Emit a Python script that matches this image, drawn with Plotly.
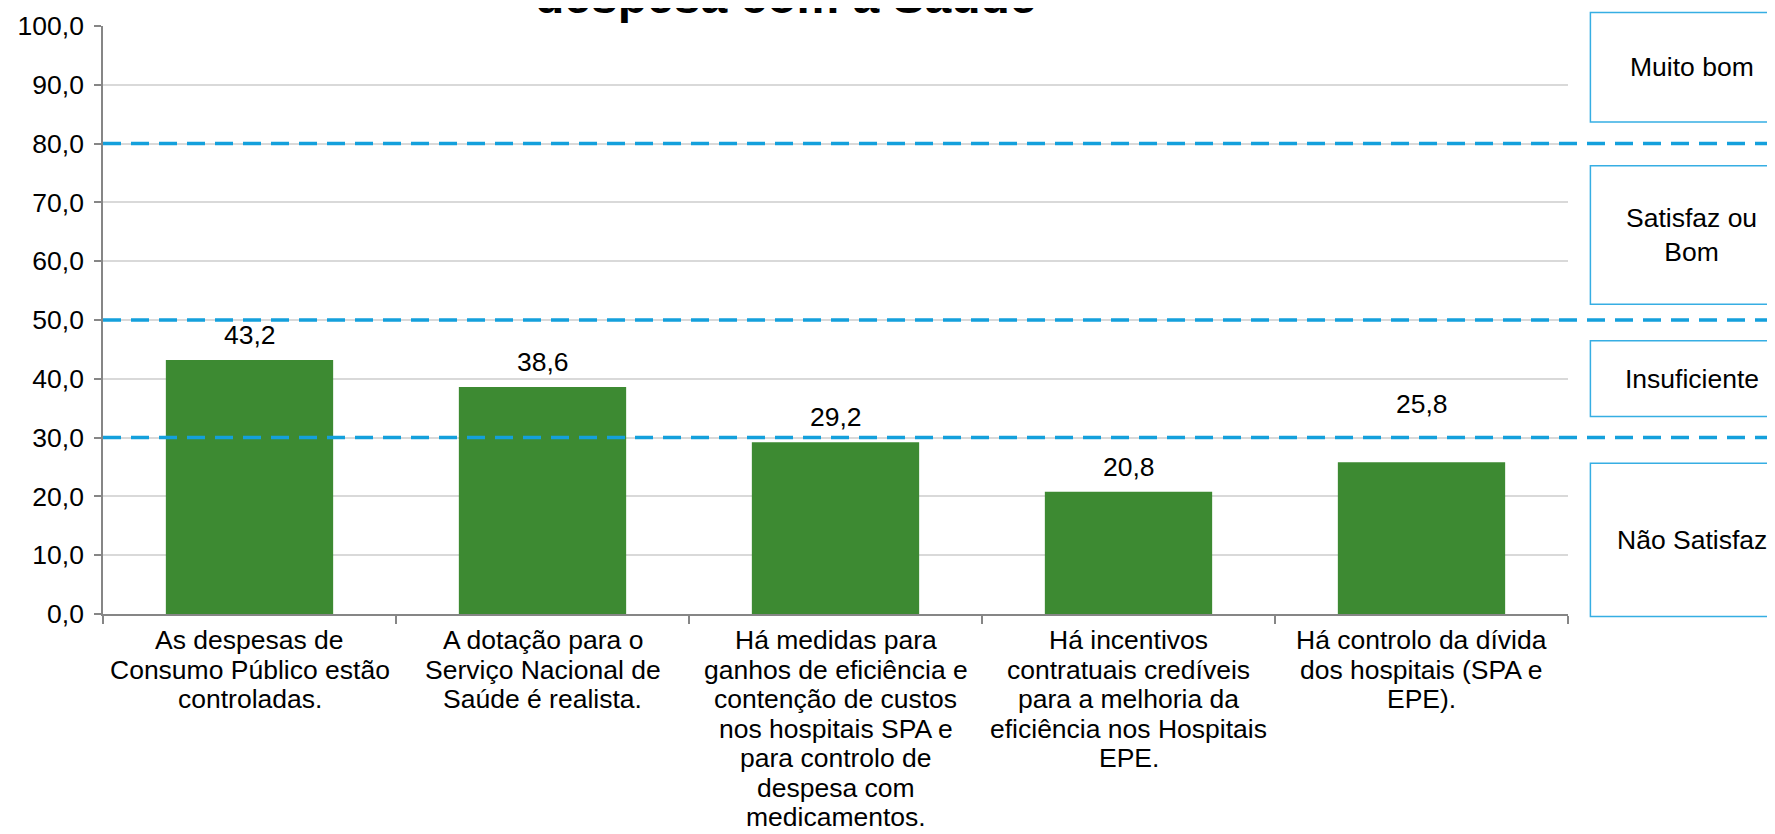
import plotly.graph_objects as go

# ---- data ----
category_lines = [
    ["As despesas de", "Consumo Público estão", "controladas."],
    ["A dotação para o", "Serviço Nacional de", "Saúde é realista."],
    ["Há medidas para", "ganhos de eficiência e", "contenção de custos",
     "nos hospitais SPA e", "para controlo de", "despesa com", "medicamentos."],
    ["Há incentivos", "contratuais credíveis", "para a melhoria da",
     "eficiência nos Hospitais", "EPE."],
    ["Há controlo da dívida", "dos hospitais (SPA e", "EPE)."],
]
categories = [" ".join(l) for l in category_lines]
values = [43.2, 38.6, 29.2, 20.8, 25.8]
thresholds = [30, 50, 80]
band_labels = ["Muito bom", "Satisfaz ou<br>Bom", "Insuficiente", "Não Satisfaz"]
title_text = "despesa com a Saúde"

# ---- style ----
OFF = 8  # page body margin
W, H = 1775 - OFF, 834 - OFF
L = 103.3 - OFF
T = 25.7 - OFF
PR = 1568.3 - OFF   # plot right (figure px)
PB = 614.3 - OFF    # plot bottom (figure px)
R = W - PR
B = H - PB
FONT = "Liberation Sans, Arial, sans-serif"
FS = 26.5
BAR_COLOR = "#3d8a32"
DASH_COLOR = "#14a0dc"
BOX_COLOR = "#36aee3"
label_shift = [25, 25, 25, 25, 58]

pw, ph = PR - L, PB - T
def px_x(p):  # p in screen px
    return (p - OFF - L) / pw
def px_y(p):
    return (PB - (p - OFF)) / ph

fig = go.Figure()
fig.add_trace(go.Bar(x=categories, y=values, marker=dict(color=BAR_COLOR, line=dict(width=0)),
                     hoverinfo="skip"))

# threshold dashed lines
for t in thresholds:
    fig.add_shape(type="line", xref="paper", yref="y", x0=0, x1=1.2, y0=t, y1=t,
                  line=dict(color=DASH_COLOR, width=3.5, dash="18px,10px"), layer="above")

# band boxes (on the right)
boxes = [(12.3, 121.7), (165.7, 304.3), (340.7, 416.7), (463.3, 616.7)]
for (top, bot), lab in zip(boxes, band_labels):
    fig.add_shape(type="rect", xref="paper", yref="paper",
                  x0=px_x(1590.7), x1=px_x(1800), y0=px_y(bot), y1=px_y(top),
                  line=dict(color=BOX_COLOR, width=1.5), fillcolor="white", layer="above")
    fig.add_annotation(xref="paper", yref="paper", x=px_x(1692), y=px_y((top + bot) / 2),
                       text=lab, showarrow=False, xanchor="center", yanchor="middle",
                       font=dict(family=FONT, size=FS, color="#000000"))

# data labels
for c, v, s in zip(categories, values, label_shift):
    fig.add_annotation(x=c, y=v, xref="x", yref="y", text=f"{v:.1f}".replace(".", ","),
                       showarrow=False, yanchor="middle", yshift=s,
                       font=dict(family=FONT, size=FS, color="#000000"))

# category labels (tight line spacing)
for c, lines in zip(categories, category_lines):
    for i, ln in enumerate(lines):
        fig.add_annotation(x=c, y=0, xref="x", yref="y", text=ln, showarrow=False,
                           yanchor="middle", xanchor="center", yshift=-(26 + i * 29.5),
                           font=dict(family=FONT, size=FS, color="#000000"))

# title (first line cut off at the top)
fig.add_annotation(xref="paper", yref="paper", x=px_x(786), y=px_y(-4), text=f"<b>{title_text}</b>",
                   showarrow=False, xanchor="center", yanchor="middle",
                   font=dict(family=FONT, size=48, color="#000000"))

fig.update_layout(
    width=W, height=H, margin=dict(l=L, r=R, t=T, b=B, autoexpand=False),
    paper_bgcolor="white", plot_bgcolor="white", showlegend=False,
    bargap=0.429, separators=", ",
    font=dict(family=FONT, size=FS, color="#000000"),
)
fig.update_xaxes(showticklabels=False, tickson="boundaries", ticks="outside", ticklen=8,
                 tickcolor="#868686", tickwidth=1.5, showline=True, linecolor="#868686",
                 linewidth=1.5, showgrid=False)
fig.update_yaxes(range=[0, 100], dtick=10, tickformat=".1f", ticks="outside", ticklen=7,
                 tickcolor="#868686", tickwidth=1.5, showline=True, linecolor="#868686",
                 linewidth=1.5, showgrid=True, gridcolor="#d9d9d9", gridwidth=1.5,
                 zeroline=False, ticklabelstandoff=5,
                 tickfont=dict(family=FONT, size=FS, color="#000000"))

fig.write_html("out.html")
